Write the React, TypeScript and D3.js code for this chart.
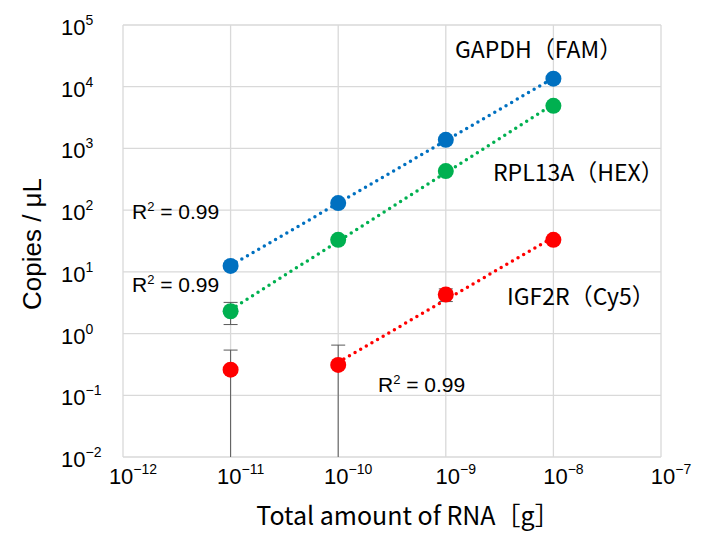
import React, { useEffect, useRef } from 'react';
import * as d3 from 'd3';

// RNA input amounts [g]
const amounts = [1e-11, 1e-10, 1e-9, 1e-8];

const gapdhMean = [12.5, 130, 1380, 13500];
const gapdhSd = [0, 0, 0, 0];
const rplMean = [2.3, 33, 430, 4900];
const rplSd = [0.9, 0, 0, 0];
const igfMean = [0.26, 0.31, 4.3, 33];
const igfSd = [0.28, 0.34, 1.0, 0];

const xTickExp = [-12, -11, -10, -9, -8, -7];
const yTickExp = [-2, -1, 0, 1, 2, 3, 4, 5];

interface Series {
  name: string;
  color: string;
  mean: number[];
  sd: number[];
  fitFrom: number; // first index used for the trendline
}

const series: Series[] = [
  { name: 'GAPDH（FAM）', color: '#0070C0', mean: gapdhMean, sd: gapdhSd, fitFrom: 0 },
  { name: 'RPL13A（HEX）', color: '#00B050', mean: rplMean, sd: rplSd, fitFrom: 0 },
  { name: 'IGF2R（Cy5）', color: '#FF0000', mean: igfMean, sd: igfSd, fitFrom: 1 },
];

const App: React.FC = () => {
  const svgRef = useRef<SVGSVGElement>(null);

  useEffect(() => {
    document.body.style.margin = '0';
    if (!svgRef.current) return;
    const svg = d3.select(svgRef.current);
    svg.selectAll('*').remove();

    const left = 123;
    const right = 661;
    const top = 25;
    const bottom = 457;

    const x = d3.scaleLog().domain([1e-12, 1e-7]).range([left, right]);
    const y = d3.scaleLog().domain([1e-2, 1e5]).range([bottom, top]);

    const numFont = '"Liberation Sans", Arial, sans-serif';
    const jpFont = '"Noto Sans CJK JP", "Liberation Sans", sans-serif';

    // grid
    const grid = svg.append('g');
    grid
      .selectAll('.gx')
      .data(xTickExp)
      .enter()
      .append('line')
      .attr('x1', (d) => x(Math.pow(10, d)))
      .attr('x2', (d) => x(Math.pow(10, d)))
      .attr('y1', top)
      .attr('y2', bottom)
      .style('stroke', '#d9d9d9')
      .style('stroke-width', 1.3);
    grid
      .selectAll('.gy')
      .data(yTickExp)
      .enter()
      .append('line')
      .attr('x1', left)
      .attr('x2', right)
      .attr('y1', (d) => y(Math.pow(10, d)))
      .attr('y2', (d) => y(Math.pow(10, d)))
      .style('stroke', '#d9d9d9')
      .style('stroke-width', 1.3);

    const fmt = (e: number) => (e < 0 ? '\u2212' + Math.abs(e) : String(e));

    // y tick labels
    yTickExp.forEach((e) => {
      const t = svg
        .append('text')
        .attr('x', 61)
        .attr('y', y(Math.pow(10, e)) + 10)
        .style('font-family', numFont)
        .style('font-size', '22px')
        .style('fill', '#000');
      t.append('tspan').text('10');
      t.append('tspan').attr('dy', -10).style('font-size', '14px').text(fmt(e));
    });

    // x tick labels
    xTickExp.forEach((e) => {
      const t = svg
        .append('text')
        .attr('x', x(Math.pow(10, e)) + 10)
        .attr('y', 484)
        .attr('text-anchor', 'middle')
        .style('font-family', numFont)
        .style('font-size', '22px')
        .style('fill', '#000');
      t.append('tspan').text('10');
      t.append('tspan').attr('dy', -10).style('font-size', '14px').text(fmt(e));
    });

    // axis titles
    svg
      .append('text')
      .attr('x', (left + right) / 2 + 16)
      .attr('y', 525)
      .attr('text-anchor', 'middle')
      .style('font-family', jpFont)
      .style('font-size', '25px')
      .text('Total amount of RNA［g］');

    svg
      .append('text')
      .attr('transform', `translate(41,244) rotate(-90)`)
      .attr('text-anchor', 'middle')
      .style('font-family', numFont)
      .style('font-size', '26px')
      .text('Copies / μL');

    // trendlines (least squares in log-log space)
    const lines = svg.append('g');
    series.forEach((s) => {
      const xs = amounts.slice(s.fitFrom).map(Math.log10);
      const ys = s.mean.slice(s.fitFrom).map(Math.log10);
      const mx = d3.mean(xs)!;
      const my = d3.mean(ys)!;
      const slope =
        d3.sum(xs.map((v, i) => (v - mx) * (ys[i] - my))) / d3.sum(xs.map((v) => (v - mx) ** 2));
      const icpt = my - slope * mx;
      const x0 = xs[0];
      const x1 = xs[xs.length - 1];
      lines
        .append('line')
        .attr('x1', x(Math.pow(10, x0)))
        .attr('y1', y(Math.pow(10, icpt + slope * x0)))
        .attr('x2', x(Math.pow(10, x1)))
        .attr('y2', y(Math.pow(10, icpt + slope * x1)))
        .style('stroke', s.color)
        .style('stroke-width', 3.5)
        .style('stroke-linecap', 'round')
        .style('stroke-dasharray', '0 6.5');
    });

    // error bars
    const eb = svg.append('g');
    series.forEach((s) => {
      s.mean.forEach((m, i) => {
        const sd = s.sd[i];
        if (!sd) return;
        const cx = x(amounts[i]);
        const yTop = y(m + sd);
        const lowVal = m - sd;
        const yBot = lowVal > 0 ? y(lowVal) : bottom;
        eb.append('line')
          .attr('x1', cx)
          .attr('x2', cx)
          .attr('y1', yTop)
          .attr('y2', yBot)
          .style('stroke', '#595959')
          .style('stroke-width', 1);
        eb.append('line')
          .attr('x1', cx - 7)
          .attr('x2', cx + 7)
          .attr('y1', yTop)
          .attr('y2', yTop)
          .style('stroke', '#595959')
          .style('stroke-width', 1);
        if (lowVal > 0) {
          eb.append('line')
            .attr('x1', cx - 7)
            .attr('x2', cx + 7)
            .attr('y1', yBot)
            .attr('y2', yBot)
            .style('stroke', '#595959')
            .style('stroke-width', 1);
        }
      });
    });

    // markers
    series.forEach((s) => {
      svg
        .append('g')
        .selectAll('circle')
        .data(s.mean)
        .enter()
        .append('circle')
        .attr('cx', (_d, i) => x(amounts[i]))
        .attr('cy', (d) => y(d))
        .attr('r', 8)
        .style('fill', s.color);
    });

    // series labels
    const labelPos = [
      [455, 58],
      [493, 181],
      [507, 305],
    ];
    series.forEach((s, i) => {
      svg
        .append('text')
        .attr('x', labelPos[i][0])
        .attr('y', labelPos[i][1])
        .style('font-family', jpFont)
        .style('font-size', '23px')
        .text(s.name);
    });

    // R² labels
    const r2Pos = [
      [132, 219],
      [132, 292],
      [378, 392],
    ];
    r2Pos.forEach(([px, py]) => {
      const t = svg
        .append('text')
        .attr('x', px)
        .attr('y', py)
        .style('font-family', numFont)
        .style('font-size', '21px');
      t.append('tspan').text('R');
      t.append('tspan').attr('dy', -8).style('font-size', '13px').text('2');
      t.append('tspan').attr('dy', 8).text(' = 0.99');
    });
  }, []);

  return <svg ref={svgRef} width={701} height={533} style={{ display: 'block', background: '#fff' }} />;
};

export default App;
